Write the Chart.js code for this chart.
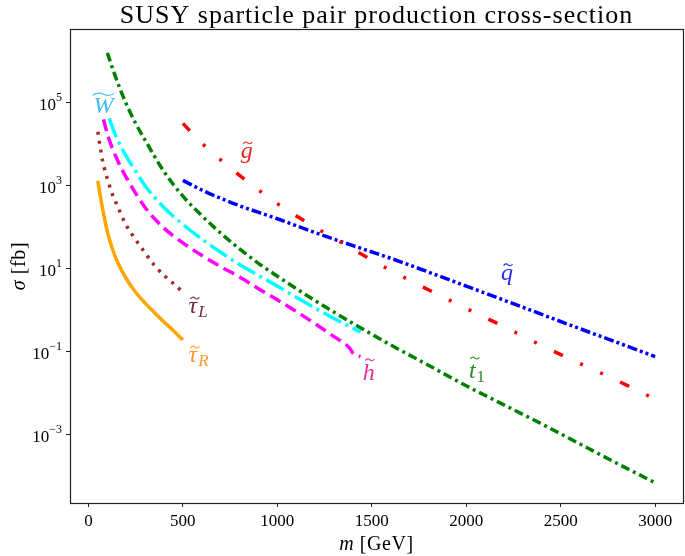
<!DOCTYPE html>
<html>
<head>
<meta charset="utf-8">
<script src="https://cdn.jsdelivr.net/npm/chart.js@4/dist/chart.umd.min.js"></script>
<style>
  html, body { margin: 0; padding: 0; background: #fff; }
  #wrap { width: 685px; height: 556px; }
</style>
</head>
<body>
<div id="wrap"><canvas id="xsec" width="685" height="556"></canvas></div>
<script>
// masses in GeV, cross-sections in fb
const stopMass = [100, 150, 200, 250, 300, 400, 500, 600, 700, 800, 900, 1000, 1200, 1400, 1600, 1800, 2000, 2200, 2400, 2600, 2800, 3000];
const stopXsec = [1.6e6, 3.5e5, 9.5e4, 3.2e4, 1.26e4, 2.2e3, 560, 190, 72, 30, 13.5, 6.6, 1.7, 0.48, 0.145, 0.047, 0.015, 0.0052, 0.0018, 6.0e-4, 2.0e-4, 6.9e-5];

const gluinoMass = [500, 600, 700, 800, 900, 1000, 1200, 1400, 1600, 1800, 2000, 2200, 2400, 2600, 2800, 3000];
const gluinoXsec = [3.2e4, 1.07e4, 4.2e3, 1.78e3, 790, 370, 100, 29.5, 9.1, 3.1, 1.1, 0.40, 0.14, 0.052, 0.020, 0.0071];

const squarkMass = [500, 600, 700, 800, 1000, 1200, 1400, 1600, 1800, 2000, 2200, 2400, 2600, 2800, 3000];
const squarkXsec = [1350, 790, 500, 330, 160, 74, 36, 17.8, 8.3, 3.8, 1.74, 0.79, 0.36, 0.166, 0.076];

const winoMass = [110, 150, 200, 250, 300, 400, 500, 600, 700, 800, 900, 1000, 1100, 1200, 1300, 1400, 1440];
const winoXsec = [4.2e4, 1.41e4, 5.2e3, 2.24e3, 1.0e3, 300, 117, 52, 25, 12.6, 6.9, 3.8, 2.04, 1.12, 0.63, 0.37, 0.30];

const higgsinoMass = [80, 100, 150, 200, 300, 400, 500, 600, 700, 800, 900, 1000, 1100, 1200, 1300, 1380, 1400, 1420, 1440];
const higgsinoXsec = [4.0e4, 1.78e4, 4.5e3, 1.6e3, 300, 95, 42, 21, 11.2, 6.3, 3.3, 1.78, 0.93, 0.47, 0.23, 0.126, 0.093, 0.081, 0.076];

const stauLMass = [50, 60, 75, 100, 125, 150, 200, 250, 300, 350, 400, 450, 490];
const stauLXsec = [2.0e4, 1.0e4, 4.0e3, 1.48e3, 660, 355, 112, 50, 24, 12, 6.9, 4.4, 3.0];

const stauRMass = [50, 60, 75, 100, 125, 150, 200, 250, 300, 350, 400, 450, 500];
const stauRXsec = [1320, 680, 280, 79, 32, 15.8, 5.8, 2.7, 1.48, 0.87, 0.52, 0.32, 0.19];

const xTicks = [0, 500, 1000, 1500, 2000, 2500, 3000];
const yTicks = [1e-3, 1e-1, 1e1, 1e3, 1e5];

// curve names: [letter, subscript, mass, sigma] (label anchor in data coords)
const curveLabels = [
  ["W", "", 27, 5.6e4],
  ["g", "", 806, 4.7e3],
  ["q", "", 2184, 5.4],
  ["h", "", 1452, 0.021],
  ["t", "1", 2014, 0.023],
  ["τ", "L", 530, 0.85],
  ["τ", "R", 530, 0.056]
];
const labelColors = ["#3ec0f0", "#f02020", "#2a2af0", "#ee2d98", "#2a8c2a", "#7a2448", "#ff9a2a"];

function pts(xs, ys) {
  return xs.map((m, i) => ({ x: m, y: ys[i] }));
}

function serie(xs, ys, color, dash) {
  return {
    data: pts(xs, ys),
    borderColor: color,
    borderWidth: 3.5,
    borderDash: dash,
    borderCapStyle: 'butt',
    pointRadius: 0,
    fill: false,
    cubicInterpolationMode: 'monotone'
  };
}

function drawTilde(ctx, x0, y, w, h) {
  ctx.beginPath();
  ctx.moveTo(x0, y + h * 0.35);
  ctx.quadraticCurveTo(x0 + w * 0.25, y - h, x0 + w * 0.5, y);
  ctx.quadraticCurveTo(x0 + w * 0.75, y + h, x0 + w, y - h * 0.35);
  ctx.stroke();
}

const textPlugin = {
  id: 'textPlugin',
  afterDraw(chart) {
    const ctx = chart.ctx;
    const a = chart.chartArea;
    const xs = chart.scales.x, ys = chart.scales.y;
    ctx.save();

    // frame
    ctx.strokeStyle = '#222';
    ctx.lineWidth = 1.2;
    ctx.strokeRect(a.left + 0.5, a.top + 0.5, a.right - a.left, a.bottom - a.top);

    // title
    ctx.fillStyle = '#000';
    ctx.textAlign = 'center';
    ctx.textBaseline = 'alphabetic';
    ctx.font = '26px "Liberation Serif"';
    ctx.letterSpacing = '1px';
    ctx.fillText('SUSY sparticle pair production cross-section', (a.left + a.right) / 2, 23);

    // x axis title
    ctx.letterSpacing = '0.6px';
    ctx.textAlign = 'left';
    ctx.font = 'italic 20px "Liberation Serif"';
    const mW = ctx.measureText('m ').width;
    ctx.font = '20px "Liberation Serif"';
    const gW = ctx.measureText('[GeV]').width;
    let x0 = (a.left + a.right) / 2 - (mW + gW) / 2;
    ctx.font = 'italic 20px "Liberation Serif"';
    ctx.fillText('m ', x0, 550);
    ctx.font = '20px "Liberation Serif"';
    ctx.fillText('[GeV]', x0 + mW, 550);

    // y axis title
    ctx.save();
    ctx.translate(25, (a.top + a.bottom) / 2);
    ctx.rotate(-Math.PI / 2);
    ctx.font = 'italic 20px "Liberation Serif"';
    const sW = ctx.measureText('σ ').width;
    ctx.font = '20px "Liberation Serif"';
    const fW = ctx.measureText('[fb]').width;
    x0 = -(sW + fW) / 2;
    ctx.font = 'italic 20px "Liberation Serif"';
    ctx.fillText('σ ', x0, 0);
    ctx.font = '20px "Liberation Serif"';
    ctx.fillText('[fb]', x0 + sW, 0);
    ctx.restore();
    ctx.letterSpacing = '0px';

    // y tick labels 10^n
    ys.ticks.forEach(t => {
      const e = Math.round(Math.log10(t.value));
      const py = ys.getPixelForValue(t.value);
      const es = e < 0 ? '\u2212' + (-e) : String(e);
      ctx.font = '12px "Liberation Serif"';
      const eW = ctx.measureText(es).width;
      ctx.textAlign = 'left';
      ctx.fillText(es, a.left - 8 - eW, py - 2);
      ctx.textAlign = 'right';
      ctx.font = '17px "Liberation Serif"';
      ctx.fillText('10', a.left - 8 - eW, py + 7);
    });

    // curve labels
    curveLabels.forEach((c, i) => {
      const px = xs.getPixelForValue(c[2]);
      const py = ys.getPixelForValue(c[3]);
      ctx.fillStyle = labelColors[i];
      ctx.strokeStyle = labelColors[i];
      ctx.textAlign = 'left';
      ctx.font = 'italic 24px "Liberation Serif"';
      const w = ctx.measureText(c[0]).width;
      ctx.fillText(c[0], px, py);
      const tall = (c[0] === 'W' || c[0] === 'h' || c[0] === 't');
      ctx.lineWidth = 1.1;
      if (c[0] === 'W') {
        drawTilde(ctx, px - 1, py - 19, w + 2, 2.6);
      } else {
        drawTilde(ctx, px + w * 0.22, py - (tall ? 20 : 15), 9, 2.2);
      }
      if (c[1]) {
        ctx.font = (c[1] === '1' ? '' : 'italic ') + '17px "Liberation Serif"';
        ctx.fillText(c[1], px + w + 1, py + 4);
      }
    });
    ctx.restore();
  }
};

const tickGrid = { display: true, drawOnChartArea: false, drawTicks: true, tickLength: 4, color: '#222', lineWidth: 1 };

new Chart(document.getElementById('xsec'), {
  type: 'line',
  data: {
    datasets: [
      serie(stopMass, stopXsec, '#008000', [9, 4, 3, 4]),
      serie(gluinoMass, gluinoXsec, '#ff0000', [10, 19, 3, 19, 3, 19]),
      serie(squarkMass, squarkXsec, '#0000ff', [10, 3, 3, 3, 3, 3]),
      serie(winoMass, winoXsec, '#00ffff', [20, 5, 3, 5]),
      serie(higgsinoMass, higgsinoXsec, '#ff00ff', [12, 6]),
      serie(stauLMass, stauLXsec, '#a52a2a', [3, 6]),
      serie(stauRMass, stauRXsec, '#ffa500', [])
    ]
  },
  options: {
    responsive: false,
    animation: false,
    layout: { padding: { left: 0, right: 2, top: 29, bottom: 0 } },
    plugins: { legend: { display: false }, tooltip: { enabled: false }, title: { display: false } },
    scales: {
      x: {
        type: 'linear',
        min: -97.5,
        max: 3147.5,
        afterBuildTicks: s => { s.ticks = xTicks.map(v => ({ value: v })); },
        afterFit: s => { s.height = 53; },
        grid: tickGrid,
        border: { display: false },
        ticks: { color: '#000', padding: 4, font: { family: 'Liberation Serif', size: 17 }, maxRotation: 0, autoSkip: false, callback: v => String(v) }
      },
      y: {
        type: 'logarithmic',
        min: Math.pow(10, -4.65),
        max: Math.pow(10, 6.78),
        afterBuildTicks: s => { s.ticks = yTicks.map(v => ({ value: v })); },
        afterFit: s => { s.width = 70; },
        grid: tickGrid,
        border: { display: false },
        ticks: { callback: () => '', autoSkip: false }
      }
    }
  },
  plugins: [textPlugin]
});
</script>
</body>
</html>
